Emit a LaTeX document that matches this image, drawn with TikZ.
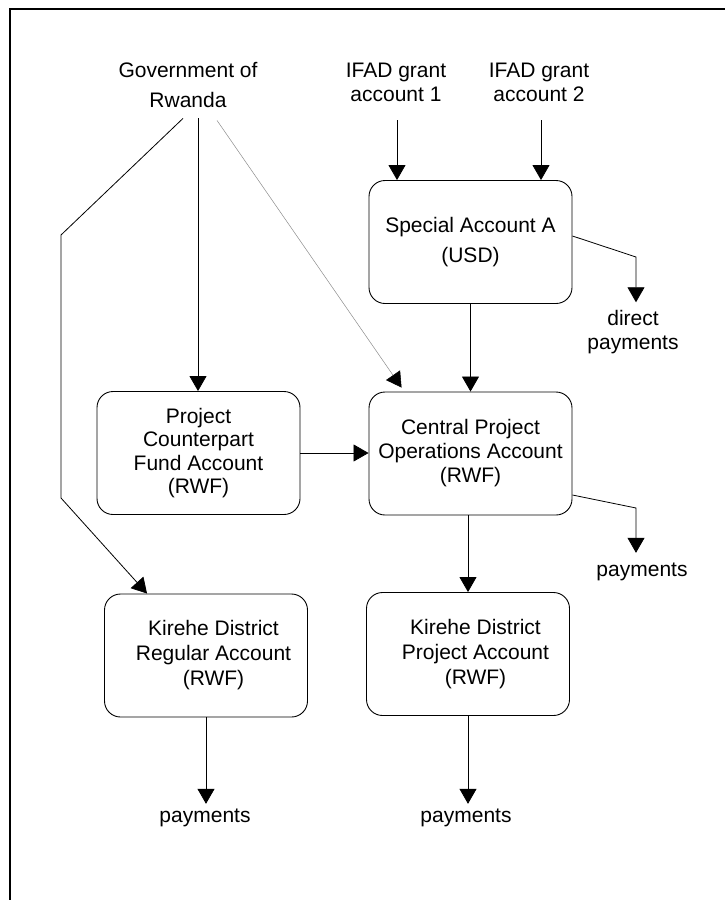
\documentclass[tikz,border=0pt]{standalone}
\usepackage{fontspec}
\setmainfont{Liberation Sans}
\usetikzlibrary{arrows.meta,calc}
\begin{document}
\begin{tikzpicture}[x=1pt,y=-1pt,
  every node/.style={font=\fontsize{21}{24}\selectfont, align=center, inner sep=0pt},
  lsA/.style={font=\fontsize{21}{30}\selectfont},
  lsB/.style={font=\fontsize{21}{25}\selectfont},
  lsC/.style={font=\fontsize{21}{23.5}\selectfont},
  acct/.style={draw, line width=0.9pt, rounded corners=16pt, minimum width=203pt, minimum height=123pt},
  flow/.style={draw, line width=0.8pt, -{Triangle[length=15pt,width=17pt]}},
  thinflow/.style={draw=black!45, line width=0.5pt, -{Triangle[length=15pt,width=17pt,color=black]}},
  frame/.style={draw, line width=2pt}
]
\useasboundingbox (0,0) rectangle (725,900);
\draw[frame] (10,900) -- (10,9) -- (725,9);

% sources
\node[lsA] (gov) at (188,85.5) {Government of\\Rwanda};
\node (ifad1) at (396,82.7) {IFAD grant\\account 1};
\node (ifad2) at (539,82.7) {IFAD grant\\account 2};

% accounts
\node[acct, lsA] (sa) at (470.5,242) {Special Account A\\(USD)};
\node[acct] (cpo) at (470.5,453.5) {Central Project\\Operations Account\\(RWF)};
\node[acct, lsC] (pcf) at (198.5,453) {Project\\Counterpart\\Fund Account\\(RWF)};
\node[acct, lsB] (kr) at (206,655.5) {\hspace*{15pt}Kirehe District\\\hspace*{15pt}Regular Account\\\hspace*{15pt}(RWF)};
\node[acct, lsB] (kp) at (468,654) {\hspace*{15pt}Kirehe District\\\hspace*{15pt}Project Account\\\hspace*{15pt}(RWF)};

% payment labels
\node[lsC] (dp) at (633,332) {direct\\payments};
\node (payc) at (642,572) {payments};
\node (payr) at (205,818) {payments};
\node (payp) at (466,818) {payments};

% bend points
\coordinate (kb1) at (61,235);
\coordinate (kb2) at (61,498);
\coordinate (dpb) at (636,257);
\coordinate (cpb) at (636,508);

% connectors
\draw[flow] ($(gov.south)+(-5,10)$) -- (kb1) -- (kb2) -- ($(kr.north west)+(43,0)$);
\draw[flow] ($(gov.south)+(10,10)$) -- (pcf.north -| 198,0);
\draw[thinflow] ($(gov.south)+(29,12)$) -- ($(cpo.north west)+(33,-4)$);
\draw[flow] ($(ifad1.south)+(1,18)$) -- ($(ifad1.south |- sa.north)+(1,0)$);
\draw[flow] ($(ifad2.south)+(2,18)$) -- ($(ifad2.south |- sa.north)+(2,0)$);
\draw[flow] (sa.south) -- (cpo.north);
\draw[flow] (pcf.east) -- (pcf.east -| cpo.west);
\draw[flow] ($(sa.east)+(0,-6)$) -- (dpb) -- ($(dpb |- dp.north)+(0,-8)$);
\draw[flow] ($(cpo.east)+(0,41.5)$) -- (cpb) -- ($(cpb |- payc.north)+(0,-10)$);
\draw[flow] (kp.north |- cpo.south) -- (kp.north);
\draw[flow] (kr.south) -- ($(kr.south |- payr.north)+(0,-5)$);
\draw[flow] (kp.south) -- ($(kp.south |- payp.north)+(0,-5)$);
\end{tikzpicture}
\end{document}
